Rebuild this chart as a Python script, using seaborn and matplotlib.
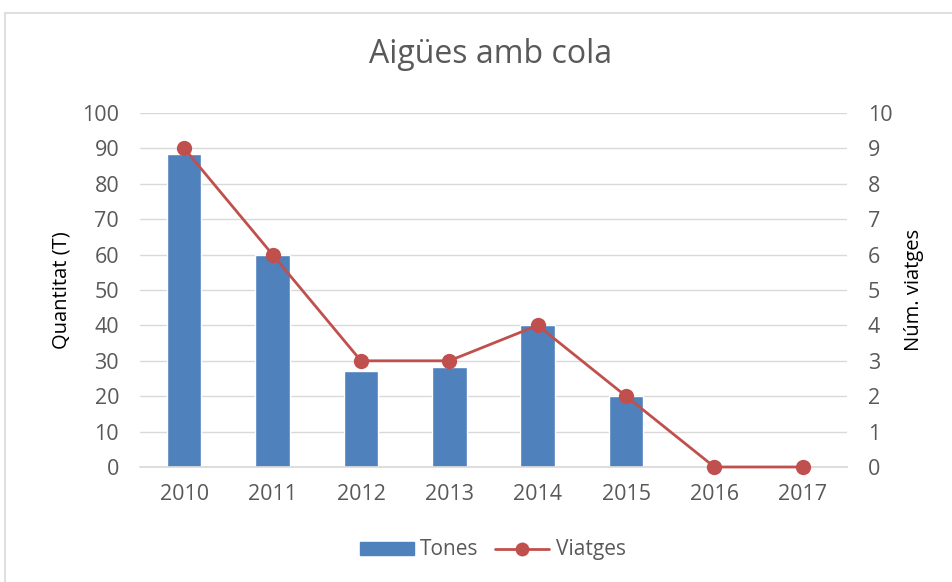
import matplotlib
matplotlib.use('Agg')
import numpy as np
import pandas as pd
import matplotlib.pyplot as plt
import seaborn as sns
from matplotlib.patches import Rectangle
from matplotlib.lines import Line2D

# === dades ===
anys = ['2010', '2011', '2012', '2013', '2014', '2015', '2016', '2017']
tones = [88.3, 60, 27.1, 28.2, 40, 20, 0, 0]
viatges = [9, 6, 3, 3, 4, 2, 0, 0]

color_barra = '#4F81BD'
color_linia = '#C0504D'
gris_text = '#595959'

sns.set_theme(style='white')
plt.rcParams['font.family'] = ['Open Sans', 'DejaVu Sans']

df = pd.DataFrame({'Any': anys, 'Tones': tones, 'Viatges': viatges})
df['pos'] = np.arange(len(anys))

fig = plt.figure(figsize=(9.53, 5.82), dpi=100)
ax = fig.add_axes([140 / 953, 1 - 467 / 582, 707 / 953, 354 / 582])

sns.barplot(data=df, x='Any', y='Tones', color=color_barra, width=0.39,
            saturation=1, ax=ax)
ax.set_ylim(0, 100)
ax.set_yticks(range(0, 101, 10))
ax.set_xlim(-0.5, len(anys) - 0.5)
ax.yaxis.grid(True, color='#D9D9D9', linewidth=1)
ax.set_axisbelow(True)
for s in ['top', 'left', 'right']:
    ax.spines[s].set_visible(False)
ax.spines['bottom'].set_color('#D9D9D9')
ax.tick_params(axis='both', length=0, labelsize=15.5, labelcolor=gris_text)
ax.tick_params(axis='x', pad=12)
ax.tick_params(axis='y', pad=15)
ax.set_xlabel('')
ax.set_ylabel('Quantitat (T)', fontsize=14.5, color='black', labelpad=8)

ax2 = ax.twinx()
sns.lineplot(data=df, x='pos', y='Viatges', color=color_linia, marker='o',
             markersize=11, markeredgewidth=0, linewidth=2, ax=ax2)
for ln in ax2.lines:
    ln.set_clip_on(False)
ax2.set_ylim(0, 10)
ax2.set_yticks(range(0, 11, 1))
ax2.set_xlim(-0.5, len(anys) - 0.5)
for s in ['top', 'left', 'right', 'bottom']:
    ax2.spines[s].set_visible(False)
ax2.tick_params(axis='y', length=0, labelsize=15.5, labelcolor=gris_text, pad=15)
ax2.set_ylabel('Núm. viatges', fontsize=14.5, color='black', labelpad=8)
ax2.set_xlabel('')

fig.suptitle('Aigües amb cola', x=0.515, y=0.935, fontsize=23, color=gris_text)

handles = [Rectangle((0, 0), 1, 1, color=color_barra),
           Line2D([0], [0], color=color_linia, marker='o', markersize=10,
                  markeredgewidth=0, linewidth=2)]
fig.legend(handles, ['Tones', 'Viatges'], loc='center', bbox_to_anchor=(0.517, 0.055),
           ncol=2, frameon=False, fontsize=15, labelcolor=gris_text,
           handlelength=2.6, handleheight=0.6, columnspacing=0.8, handletextpad=0.3)

# vora del gràfic
fig.patches.append(Rectangle((0.005, -0.01), 1.0, (582 - 13) / 582 + 0.01,
                             transform=fig.transFigure, fill=False,
                             edgecolor='#D9D9D9', linewidth=1.2))

fig.savefig('out.png', dpi=100)
